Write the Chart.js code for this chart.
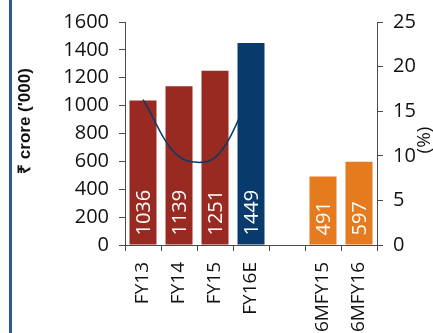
<!DOCTYPE html>
<html>
<head>
<meta charset="utf-8">
<script src="https://cdn.jsdelivr.net/npm/chart.js@4"></script>
<style>
    html, body { margin: 0; padding: 0; background: #fff; }
    #wrap { position: relative; width: 433px; height: 333px; overflow: hidden; }
    #edge { position: absolute; left: 9px; top: 0; width: 3px; height: 333px; background: #2c5a8a; }
    canvas { position: absolute; left: 0; top: 0; }
</style>
</head>
<body>
<div id="wrap">
    <canvas id="salesChart" width="433" height="333"></canvas>
    <div id="edge"></div>
</div>
<script>
const categories = ['FY13', 'FY14', 'FY15', 'FY16E', '', '6MFY15', '6MFY16'];
const salesValues = [1036, 1139, 1251, 1449, null, 491, 597];
const growthValues = [16.3, 9.9, 9.8, 17.0, null, null, null];
const leftTicks = [0, 200, 400, 600, 800, 1000, 1200, 1400, 1600];
const rightTicks = [0, 5, 10, 15, 20, 25];

const RED = '#992a21';
const BLUE = '#083b6c';
const ORANGE = '#e67a1e';
const barColors = [RED, RED, RED, BLUE, RED, ORANGE, ORANGE];
const axisColor = '#4a4a4a';
const tickFont = { family: 'Open Sans', size: 20 };

// white values written upwards inside each bar
const barLabels = {
    id: 'barLabels',
    afterDatasetsDraw(chart) {
        const ctx = chart.ctx;
        const meta = chart.getDatasetMeta(0);
        ctx.save();
        ctx.fillStyle = '#ffffff';
        ctx.font = '20px "Open Sans"';
        ctx.textAlign = 'left';
        ctx.textBaseline = 'middle';
        meta.data.forEach(function (bar, i) {
            if (salesValues[i] == null) return;
            ctx.save();
            ctx.translate(bar.x, bar.base - 9);
            ctx.rotate(-Math.PI / 2);
            ctx.fillText(String(salesValues[i]), 0, 1);
            ctx.restore();
        });
        ctx.restore();
    }
};

// axis titles, both read bottom to top
const axisTitles = {
    id: 'axisTitles',
    afterDraw(chart) {
        const ctx = chart.ctx;
        ctx.save();
        ctx.fillStyle = '#111';
        ctx.textAlign = 'center';
        ctx.textBaseline = 'middle';

        ctx.save();
        ctx.translate(25, 121);
        ctx.rotate(-Math.PI / 2);
        ctx.font = 'bold 17px "Liberation Sans"';
        ctx.fillText("₹ crore ('000)", 0, 0);
        ctx.restore();

        ctx.save();
        ctx.translate(425, 140);
        ctx.rotate(-Math.PI / 2);
        ctx.font = '19px "Open Sans"';
        ctx.fillText('(%)', 0, 0);
        ctx.restore();

        ctx.restore();
    }
};

new Chart(document.getElementById('salesChart'), {
    type: 'bar',
    data: {
        labels: categories,
        datasets: [{
            label: 'Sales',
            data: salesValues,
            yAxisID: 'y',
            backgroundColor: barColors,
            barPercentage: 0.75,
            categoryPercentage: 1,
            order: 1
        }, {
            type: 'line',
            label: 'Growth',
            data: growthValues,
            yAxisID: 'y1',
            borderColor: BLUE,
            borderWidth: 1.5,
            pointRadius: 0,
            tension: 0.34,
            fill: false,
            order: 0
        }]
    },
    options: {
        responsive: false,
        animation: false,
        layout: { padding: { top: 16, left: 0, right: 0, bottom: 0 } },
        plugins: {
            legend: { display: false },
            tooltip: { enabled: false }
        },
        scales: {
            x: {
                offset: true,
                grid: {
                    offset: true,
                    drawOnChartArea: false,
                    tickLength: 6,
                    color: axisColor
                },
                border: { color: axisColor },
                ticks: {
                    color: '#111',
                    font: { family: 'Open Sans', size: 19 },
                    minRotation: 90,
                    maxRotation: 90,
                    padding: 11,
                    autoSkip: false
                },
                afterFit(scale) { scale.height = 88; }
            },
            y: {
                position: 'left',
                min: 0,
                max: 1600,
                afterBuildTicks(scale) { scale.ticks = leftTicks.map(v => ({ value: v })); },
                grid: { drawOnChartArea: false, tickLength: 6, color: axisColor },
                border: { color: axisColor },
                ticks: { color: '#111', font: tickFont, padding: 10, callback: v => String(v) },
                afterFit(scale) { scale.width = 125; }
            },
            y1: {
                position: 'right',
                min: 0,
                max: 25,
                afterBuildTicks(scale) { scale.ticks = rightTicks.map(v => ({ value: v })); },
                grid: { drawOnChartArea: false, tickLength: 6, color: axisColor },
                border: { color: axisColor },
                ticks: { color: '#111', font: tickFont, padding: 10, callback: v => String(v) },
                afterFit(scale) { scale.width = 56; }
            }
        }
    },
    plugins: [barLabels, axisTitles]
});
</script>
</body>
</html>
